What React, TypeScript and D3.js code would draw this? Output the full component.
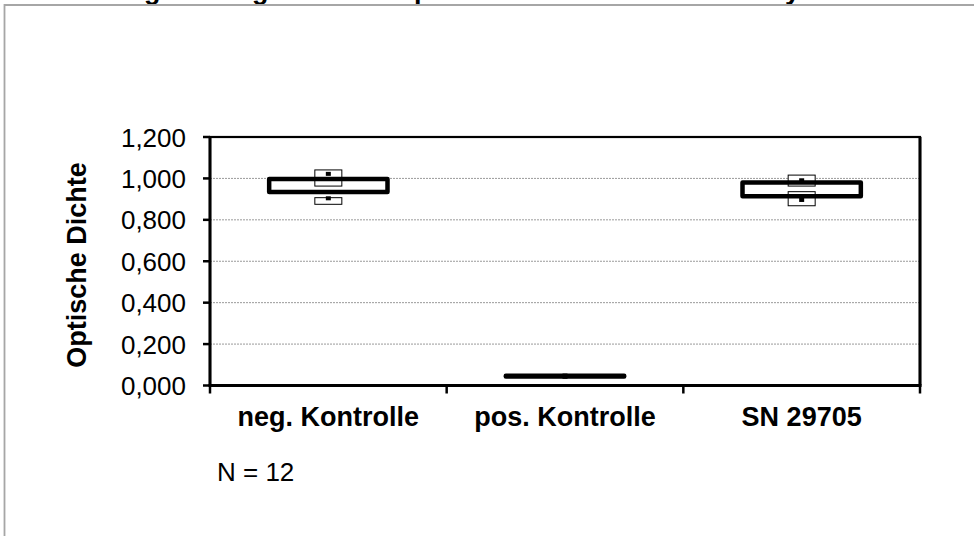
import React from "react";
import * as d3 from "d3";

const categories = ["neg. Kontrolle", "pos. Kontrolle", "SN 29705"];
// thick box (low / high)
const boxLow = [0.934, 0.044, 0.914];
const boxHigh = [0.997, 0.047, 0.98];
// thin upper rectangle
const upperTop = [1.041, 0.05, 1.016];
const upperBottom = [0.963, 0.046, 0.963];
// thin lower rectangle
const lowerTop = [0.907, 0.044, 0.936];
const lowerBottom = [0.875, 0.04, 0.868];
// black marks
const maxMark = [1.022, 0.048, 0.991];
const minMark = [0.904, 0.042, 0.896];

const yTicks = [0, 0.2, 0.4, 0.6, 0.8, 1.0, 1.2];
const yTitle = "Optische Dichte";
const title = "Prüfung der Negativ- sowie positiven Kontrollen im Assay";
const note = "N = 12";

const W = 974;
const H = 536;
const left = 210;
const right = 920;
const top = 137;
const bottom = 385.5;
const font = "'Liberation Sans', Arial, Helvetica, sans-serif";

export default function App() {
  const x = d3.scaleBand<string>().domain(categories).range([left, right]);
  const y = d3.scaleLinear().domain([0, 1.2]).range([bottom, top]);
  const fmt = (v: number) => d3.format(".3f")(v).replace(".", ",").replace(/^1,/, "1,");
  const boxW = x.bandwidth() * 0.5;
  const smallW = 27;
  const boundaries = [left, ...categories.map((c) => (x(c) as number) + x.bandwidth())];

  return (
    <div style={{ position: "absolute", left: 0, top: 0 }}>
      <svg width={W} height={H} style={{ display: "block", background: "#fff" }}>
        <text x={57} y={-1} fontFamily={font} fontWeight="bold" fontSize={27} fill="#000">
          {title}
        </text>
        {/* outer frame */}
        <path d={`M4.5,${H + 5} V5 H${W + 5}`} fill="none" stroke="#a6a6a6" strokeWidth={1.8} />

        {/* grid lines */}
        {yTicks.filter((t) => t > 0 && t < 1.2).map((t) => (
          <line key={t} x1={left} x2={right} y1={y(t)} y2={y(t)} stroke="#9a9a9a" strokeWidth={1} strokeDasharray="2,1" />
        ))}

        {/* plot border */}
        <rect x={left} y={top} width={right - left} height={bottom - top} fill="none" stroke="#000" strokeWidth={2.2} />
        <line x1={left} x2={left} y1={top} y2={bottom} stroke="#000" strokeWidth={3} />
        <line x1={right} x2={right} y1={top} y2={bottom} stroke="#000" strokeWidth={3} />
        <line x1={left - 1.5} x2={right + 1.5} y1={bottom} y2={bottom} stroke="#000" strokeWidth={3} />

        {/* y ticks */}
        {yTicks.map((t) => (
          <g key={t}>
            <line x1={left - 7} x2={left} y1={y(t)} y2={y(t)} stroke="#000" strokeWidth={2.5} />
            <text x={186} y={y(t) + 9.5} textAnchor="end" fontFamily={font} fontSize={26} fill="#000">
              {fmt(t)}
            </text>
          </g>
        ))}
        {/* x ticks */}
        {boundaries.map((b, i) => (
          <line key={i} x1={b} x2={b} y1={bottom} y2={bottom + 8} stroke="#000" strokeWidth={2.5} />
        ))}

        {/* series */}
        {categories.map((c, i) => {
          const cx = (x(c) as number) + x.bandwidth() / 2;
          return (
            <g key={c}>
              <rect x={cx - smallW / 2} y={y(upperTop[i])} width={smallW} height={y(upperBottom[i]) - y(upperTop[i])} fill="#fff" stroke="#000" strokeWidth={1} />
              <rect x={cx - smallW / 2} y={y(lowerTop[i])} width={smallW} height={y(lowerBottom[i]) - y(lowerTop[i])} fill="#fff" stroke="#000" strokeWidth={1} />
              <rect x={cx - boxW / 2} y={y(boxHigh[i])} width={boxW} height={y(boxLow[i]) - y(boxHigh[i])} fill="none" stroke="#000" strokeWidth={4.5} strokeLinejoin="round" />
              <rect x={cx - 2.5} y={y(maxMark[i]) - 2} width={5} height={4} fill="#000" />
              <rect x={cx - 2.5} y={y(minMark[i]) - 2} width={5} height={4} fill="#000" />
            </g>
          );
        })}

        {/* category labels */}
        {categories.map((c) => (
          <text key={c} x={(x(c) as number) + x.bandwidth() / 2} y={426} textAnchor="middle" fontFamily={font} fontWeight="bold" fontSize={27} fill="#000">
            {c}
          </text>
        ))}

        <text transform={`translate(86,265) rotate(-90)`} textAnchor="middle" fontFamily={font} fontWeight="bold" fontSize={27} fill="#000">
          {yTitle}
        </text>

        <text x={217} y={481} fontFamily={font} fontSize={26} fill="#000">
          {note}
        </text>
      </svg>
    </div>
  );
}
